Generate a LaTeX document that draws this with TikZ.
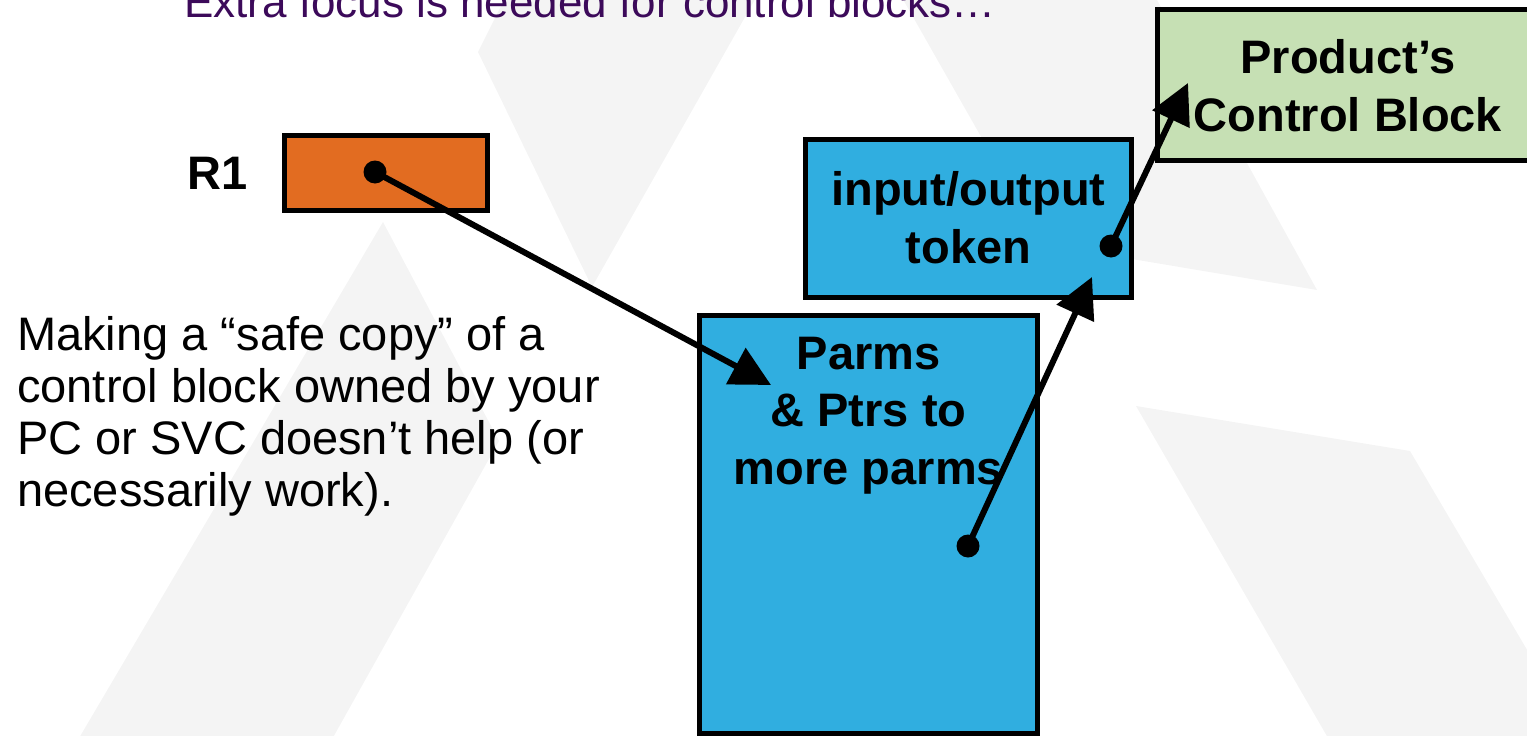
\documentclass[tikz,border=0pt]{standalone}
\usepackage{fontspec}
\setmainfont{Liberation Sans}
\usetikzlibrary{arrows.meta}
\definecolor{wmgray}{RGB}{244,244,244}
\definecolor{titlepurple}{RGB}{60,10,90}
\definecolor{regorange}{RGB}{226,108,33}
\definecolor{cbblue}{RGB}{48,174,224}
\definecolor{cbgreen}{RGB}{198,224,180}

\begin{document}
\begin{tikzpicture}[x=1pt,y=-1pt,
  block/.style={draw=black, line width=5pt, rectangle, inner sep=0pt},
  blocktext/.style={font=\bfseries\fontsize{47}{57.5}\selectfont, align=center, inner sep=0pt, anchor=base},
  ptrdot/.style={circle, fill=black, minimum size=23pt, inner sep=0pt},
  pointer/.style={line width=6pt, -{Triangle[length=40pt,width=40pt]}}]

\useasboundingbox (0,0) rectangle (1527,736);
\clip (0,0) rectangle (1527,736);

% faint background logo
\fill[wmgray] (514,-20) -- (766,-20) -- (592,287) -- (478,52) -- cycle;
\fill[wmgray] (892,-20) -- (1146,-20) -- (1317,290) -- (1042,244) -- cycle;
\fill[wmgray] (383,222) -- (499,441) -- (326,750) -- (72,750) -- cycle;
\fill[wmgray] (1136,406) -- (1410,451) -- (1586,750) -- (1335,750) -- cycle;

% heading and explanation (multi-line nodes are anchored at their last baseline)
\node[anchor=base west, text=titlepurple, font=\fontsize{44}{50}\selectfont, inner sep=0pt]
  (title) at (184,17) {Extra focus is needed for control blocks…};
\node[anchor=base west, align=left, font=\fontsize{47}{52}\selectfont, inner sep=0pt]
  (note) at (17,506) {Making a “safe copy” of a\\control block owned by your\\PC or SVC doesn’t help (or\\necessarily work).};

% register and control blocks
\node[block, fill=regorange, minimum width=203pt, minimum height=75pt] (r1box) at (386,173) {};
\node[font=\bfseries\fontsize{47}{57}\selectfont, anchor=base, inner sep=0pt] (r1label) at (218,189) {R1};

\node[block, fill=cbblue, minimum width=326pt, minimum height=158pt] (token) at (968.5,218.5) {};
\node[blocktext] (tokentext) at (968.5,263) {input/output\\token};

\node[block, fill=cbblue, minimum width=338pt, minimum height=418pt] (parms) at (868.5,524.5) {};
\node[blocktext] (parmstext) at (868.5,484) {Parms\\\& Ptrs to\\more parms};

\node[block, fill=cbgreen, minimum width=381pt, minimum height=151pt] (pcb) at (1348,85) {};
\node[blocktext] (pcbtext) at (1348,131) {Product’s\\Control Block};

% pointers
\node[ptrdot] (r1ptr) at (375,172) {};
\coordinate (r1tip) at (771,385);
\draw[pointer] (r1ptr.center) -- (r1tip);

\node[ptrdot] (parmsptr) at (968,546) {};
\coordinate (parmstip) at (1092,277);
\draw[pointer] (parmsptr.center) -- (parmstip);

\node[ptrdot] (tokenptr) at (1111,246) {};
\coordinate (tokentip) at (1188,83);
\draw[pointer] (tokenptr.center) -- (tokentip);
\end{tikzpicture}
\end{document}
